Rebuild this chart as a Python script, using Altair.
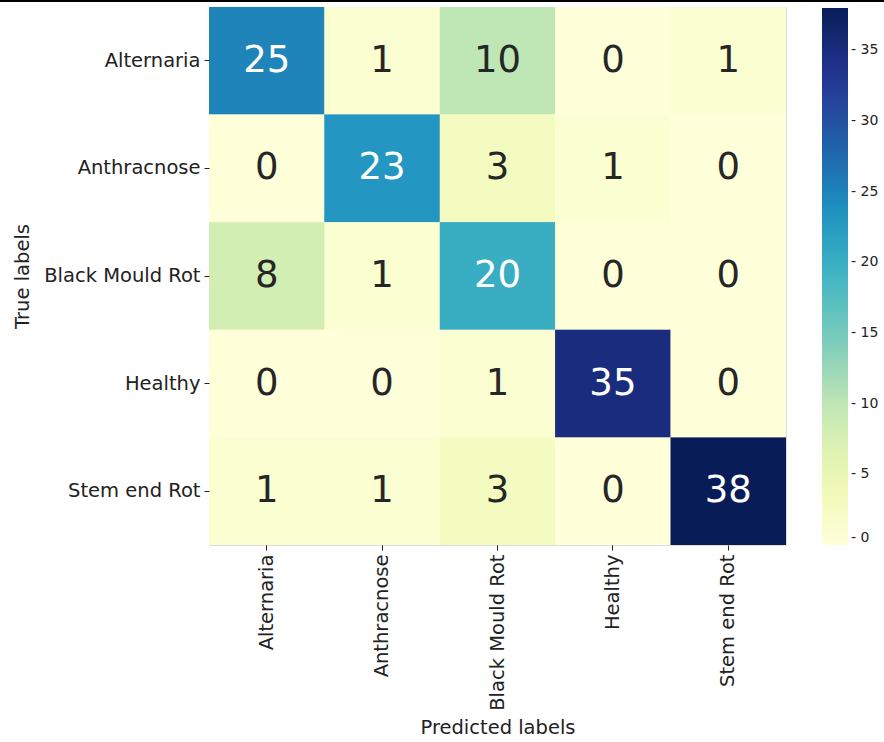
import altair as alt
import pandas as pd

classes = ["Alternaria", "Anthracnose", "Black Mould Rot", "Healthy", "Stem end Rot"]
row_alternaria = [25, 1, 10, 0, 1]
row_anthracnose = [0, 23, 3, 1, 0]
row_black_mould = [8, 1, 20, 0, 0]
row_healthy = [0, 0, 1, 35, 0]
row_stem_end = [1, 1, 3, 0, 38]
rows = [row_alternaria, row_anthracnose, row_black_mould, row_healthy, row_stem_end]
legend_ticks = [0, 5, 10, 15, 20, 25, 30, 35]
ylgnbu = ["#ffffd9", "#edf8b1", "#c7e9b4", "#7fcdbb", "#41b6c4",
          "#1d91c0", "#225ea8", "#253494", "#081d58"]

records = []
for t, vals in zip(classes, rows):
    for p, v in zip(classes, vals):
        records.append({"true": t, "pred": p, "count": v})
df = pd.DataFrame(records)

FONT = "DejaVu Sans"
INK = "#222222"

base = alt.Chart(df).encode(
    x=alt.X("pred:N", sort=classes, title="Predicted labels",
            scale=alt.Scale(paddingInner=0, paddingOuter=0),
            axis=alt.Axis(labelAngle=270, labelFontSize=19.5, labelFont=FONT,
                          labelColor=INK, titleFontSize=19.5, titleFont=FONT,
                          titleFontWeight="normal", titleColor=INK,
                          domain=False, tickSize=5, tickColor=INK,
                          labelPadding=4, titlePadding=8, labelAlign="right",
                          labelBaseline="middle")),
    y=alt.Y("true:N", sort=classes, title="True labels",
            scale=alt.Scale(paddingInner=0, paddingOuter=0),
            axis=alt.Axis(labelFontSize=19.5, labelFont=FONT, labelColor=INK,
                          titleFontSize=19.5, titleFont=FONT, titleFontWeight="normal",
                          titleColor=INK, domain=False, tickSize=5,
                          tickColor=INK, labelPadding=4, titlePadding=11)),
)

color_enc = alt.Color("count:Q",
                      scale=alt.Scale(range=ylgnbu, domain=[0, 38], interpolate="rgb"),
                      legend=alt.Legend(title=None, orient="none", legendX=613, legendY=1,
                                        gradientLength=537, gradientThickness=26,
                                        values=legend_ticks, labelFontSize=14,
                                        labelFont=FONT, labelColor=INK,
                                        labelOffset=3, gradientStrokeWidth=0,
                                        labelBaseline="middle",
                                        labelExpr="'- ' + datum.label",
                                        direction="vertical"))

rects = base.mark_rect().encode(color=color_enc)
rects2 = base.mark_rect().encode(color=color_enc)

texts = base.mark_text(fontSize=37, font=FONT).encode(
    text="count:Q",
    color=alt.condition(alt.datum.count > 15, alt.value("white"), alt.value("#262626")),
)

topline = alt.Chart(pd.DataFrame({"a": [0]})).mark_rule(color="black", strokeWidth=2).encode(
    x=alt.value(-209), x2=alt.value(675), y=alt.value(-6)
)

chart = alt.layer(rects, rects2, texts, topline).properties(
    width=577, height=538,
    padding={"left": 209, "top": 7, "right": 98, "bottom": 197},
    autosize=alt.AutoSizeParams(type="none"),
).configure_view(stroke=None).configure(background="white")

chart.save("out.html", embed_options={"renderer": "svg", "actions": False})
